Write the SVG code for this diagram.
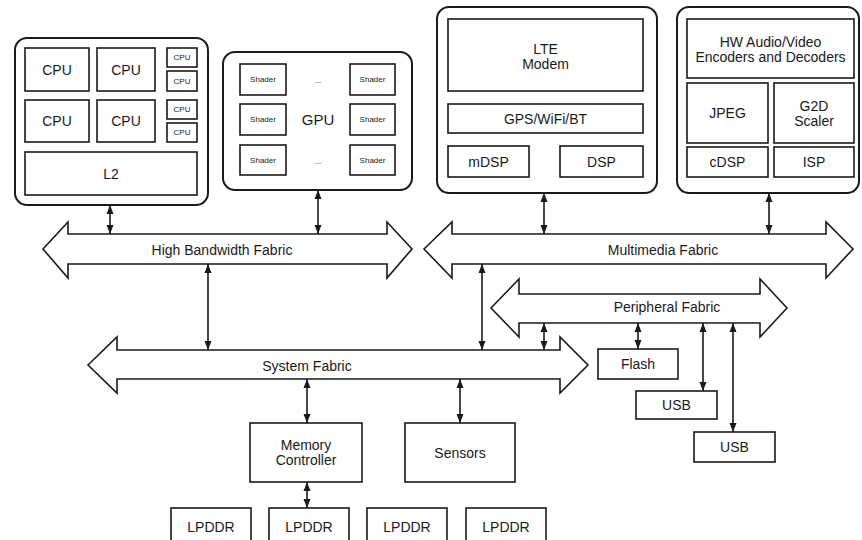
<svg xmlns="http://www.w3.org/2000/svg" width="862" height="540" viewBox="0 0 862 540">
<style>
  .outer { fill: #fff; stroke: #1a1a1a; stroke-width: 2; }
  .box { fill: #fff; stroke: #1a1a1a; stroke-width: 1.6; }
  .fab { fill: #fff; stroke: #1a1a1a; stroke-width: 1.6; stroke-linejoin: miter; }
  .t { font-family: "Liberation Sans", Arial, sans-serif; font-size: 14px; fill: #1a1a1a; text-anchor: middle; dominant-baseline: central; }
  .s8 { font-size: 8px; }
  .s15 { font-size: 15px; }
  .conn { stroke: #1a1a1a; stroke-width: 1.6; fill: none; marker-start: url(#ah); marker-end: url(#ah); }
</style>
<defs>
  <marker id="ah" markerUnits="userSpaceOnUse" markerWidth="10" markerHeight="8" refX="9" refY="3.5" orient="auto-start-reverse" viewBox="0 0 10 7">
    <path d="M0,0 L9,3.5 L0,7 z" fill="#1a1a1a"/>
  </marker>
</defs>
<rect width="862" height="540" fill="#fff"/>

<g id="cpu-cluster">
  <rect class="outer" x="15" y="38" width="193" height="167" rx="12"/>
  <rect class="box" x="25" y="48" width="64" height="43"/><text class="t" x="57" y="69.5">CPU</text>
  <rect class="box" x="97" y="48" width="58" height="43"/><text class="t" x="126" y="69.5">CPU</text>
  <rect class="box" x="167" y="48" width="30" height="19"/><text class="t s8" x="182" y="57.5">CPU</text>
  <rect class="box" x="167" y="71" width="30" height="20"/><text class="t s8" x="182" y="81">CPU</text>
  <rect class="box" x="25" y="100" width="64" height="42"/><text class="t" x="57" y="121">CPU</text>
  <rect class="box" x="97" y="100" width="58" height="42"/><text class="t" x="126" y="121">CPU</text>
  <rect class="box" x="167" y="100" width="30" height="19"/><text class="t s8" x="182" y="109.5">CPU</text>
  <rect class="box" x="167" y="123" width="30" height="19"/><text class="t s8" x="182" y="132.5">CPU</text>
  <rect class="box" x="25" y="152" width="172" height="43"/><text class="t" x="111" y="173.5">L2</text>
</g>

<g id="gpu">
  <rect class="outer" x="223" y="52" width="189" height="138" rx="12"/>
  <rect class="box" x="240" y="64" width="46" height="31"/><text class="t s8" x="263" y="79.5">Shader</text>
  <rect class="box" x="350" y="64" width="45" height="31"/><text class="t s8" x="372.5" y="79.5">Shader</text>
  <rect class="box" x="240" y="104" width="46" height="31"/><text class="t s8" x="263" y="119.5">Shader</text>
  <rect class="box" x="350" y="104" width="45" height="31"/><text class="t s8" x="372.5" y="119.5">Shader</text>
  <rect class="box" x="240" y="145" width="46" height="30"/><text class="t s8" x="263" y="160">Shader</text>
  <rect class="box" x="350" y="145" width="45" height="30"/><text class="t s8" x="372.5" y="160">Shader</text>
  <text class="t s8" x="318" y="80">...</text>
  <text class="t s8" x="318" y="161">...</text>
  <text class="t s15" x="318" y="119.5">GPU</text>
</g>

<g id="lte">
  <rect class="outer" x="437" y="7" width="220" height="186" rx="12"/>
  <rect class="box" x="448" y="19" width="195" height="72"/>
  <text class="t" x="545.5" y="49">LTE</text>
  <text class="t" x="545.5" y="64">Modem</text>
  <rect class="box" x="448" y="104" width="195" height="29"/><text class="t" x="545.5" y="118.5">GPS/WiFi/BT</text>
  <rect class="box" x="448" y="146" width="81" height="31"/><text class="t" x="488.5" y="161.5">mDSP</text>
  <rect class="box" x="560" y="146" width="83" height="31"/><text class="t" x="601.5" y="161.5">DSP</text>
</g>

<g id="multimedia">
  <rect class="outer" x="677" y="7" width="182" height="186" rx="12"/>
  <rect class="box" x="687" y="19" width="167" height="59"/>
  <text class="t" x="770.5" y="42">HW Audio/Video</text>
  <text class="t" x="770.5" y="57">Encoders and Decoders</text>
  <rect class="box" x="687" y="83" width="81" height="60"/><text class="t" x="727.5" y="113">JPEG</text>
  <rect class="box" x="774" y="83" width="80" height="60"/>
  <text class="t" x="814" y="106">G2D</text>
  <text class="t" x="814" y="121">Scaler</text>
  <rect class="box" x="687" y="147" width="81" height="30"/><text class="t" x="727.5" y="162">cDSP</text>
  <rect class="box" x="774" y="147" width="80" height="30"/><text class="t" x="814" y="162">ISP</text>
</g>

<g id="high-bandwidth-fabric">
  <polygon class="fab" points="43,249 68,222 68,234 387,234 387,222 412,249 387,278 387,264 68,264 68,278"/>
  <text class="t" x="222" y="249.5">High Bandwidth Fabric</text>
</g>

<g id="multimedia-fabric">
  <polygon class="fab" points="424,249 452,222 452,234 826,234 826,222 853,249 826,278 826,264 452,264 452,278"/>
  <text class="t" x="663" y="249.5">Multimedia Fabric</text>
</g>

<g id="peripheral-fabric">
  <polygon class="fab" points="491,308 519,279 519,294 760,294 760,279 787,308 760,337 760,323 519,323 519,337"/>
  <text class="t" x="667" y="307">Peripheral Fabric</text>
</g>

<g id="system-fabric">
  <polygon class="fab" points="88,365 117,337 117,350 560,350 560,337 588,365 560,393 560,379 117,379 117,393"/>
  <text class="t" x="307" y="365.5">System Fabric</text>
</g>

<g id="flash"><rect class="box" x="598" y="349" width="80" height="30"/><text class="t" x="638" y="364">Flash</text></g>
<g id="usb1"><rect class="box" x="636" y="391" width="81" height="28"/><text class="t" x="676.5" y="405">USB</text></g>
<g id="usb2"><rect class="box" x="694" y="432" width="81" height="30"/><text class="t" x="734.5" y="447">USB</text></g>

<g id="memory-controller">
  <rect class="box" x="250" y="423" width="112" height="59"/>
  <text class="t" x="306" y="445">Memory</text>
  <text class="t" x="306" y="460">Controller</text>
</g>
<g id="sensors"><rect class="box" x="405" y="423" width="110" height="59"/><text class="t" x="460" y="452.5">Sensors</text></g>

<g id="lpddr1"><rect class="box" x="171" y="508" width="80" height="40"/><text class="t" x="211" y="527">LPDDR</text></g>
<g id="lpddr2"><rect class="box" x="269" y="508" width="80" height="40"/><text class="t" x="309" y="527">LPDDR</text></g>
<g id="lpddr3"><rect class="box" x="367" y="508" width="80" height="40"/><text class="t" x="407" y="527">LPDDR</text></g>
<g id="lpddr4"><rect class="box" x="466" y="508" width="80" height="40"/><text class="t" x="506" y="527">LPDDR</text></g>

<g id="connectors">
  <line class="conn" x1="110" y1="205" x2="110" y2="234"/>
  <line class="conn" x1="318" y1="190" x2="318" y2="234"/>
  <line class="conn" x1="544" y1="193" x2="544" y2="234"/>
  <line class="conn" x1="769" y1="193" x2="769" y2="234"/>
  <line class="conn" x1="208" y1="264" x2="208" y2="350"/>
  <line class="conn" x1="482" y1="264" x2="482" y2="350"/>
  <line class="conn" x1="544" y1="323" x2="544" y2="350"/>
  <line class="conn" x1="638" y1="323" x2="638" y2="349"/>
  <line class="conn" x1="703" y1="323" x2="703" y2="391"/>
  <line class="conn" x1="733" y1="323" x2="733" y2="432"/>
  <line class="conn" x1="307" y1="379" x2="307" y2="423"/>
  <line class="conn" x1="460" y1="379" x2="460" y2="423"/>
  <line class="conn" x1="307" y1="482" x2="307" y2="508"/>
</g>
</svg>
